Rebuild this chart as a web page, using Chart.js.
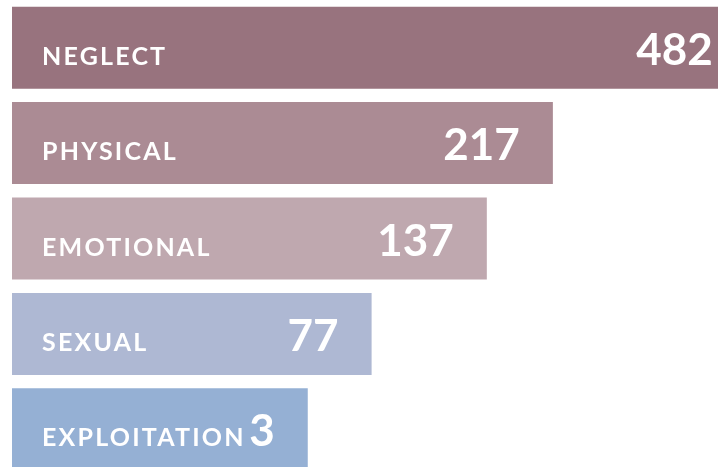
<!DOCTYPE html>
<html>
<head>
<meta charset="utf-8">
<script src="https://cdn.jsdelivr.net/npm/chart.js@4"></script>
<style>
  html, body { margin: 0; padding: 0; background: #fff; overflow: hidden; }
  #wrap { width: 718px; height: 477px; }
</style>
</head>
<body>
<div id="wrap"><canvas id="abuseChart" width="718" height="477"></canvas></div>
<script>
// Tipos de abuso e casos
const categories = ['NEGLECT', 'PHYSICAL', 'EMOTIONAL', 'SEXUAL', 'EXPLOITATION'];
const caseCounts = [482, 217, 137, 77, 3];
// comprimento das barras (relativo à maior - não proporcional aos casos)
const barLengths = [100, 73.7, 64.7, 49.0, 40.3];
const barColors = ['#98737e', '#ab8b94', '#bfa8af', '#aeb8d3', '#95b0d4'];

const labelPlugin = {
    id: 'barLabels',
    afterDatasetsDraw(chart) {
        const ctx = chart.ctx;
        const meta = chart.getDatasetMeta(0);
        ctx.save();
        ctx.fillStyle = '#ffffff';
        ctx.textBaseline = 'alphabetic';
        meta.data.forEach(function (bar, i) {
            ctx.font = 'bold 25px Lato';
            ctx.letterSpacing = '2.2px';
            ctx.textAlign = 'left';
            ctx.fillText(categories[i], bar.base + 30, bar.y + 17);
            ctx.font = 'bold 44px Lato';
            ctx.letterSpacing = '0px';
            ctx.textAlign = 'right';
            ctx.fillText(String(caseCounts[i]), bar.x - 33, bar.y + 17);
        });
        ctx.restore();
    }
};

const abuseCtx = document.getElementById('abuseChart').getContext('2d');
new Chart(abuseCtx, {
    type: 'bar',
    data: {
        labels: categories,
        datasets: [{
            data: barLengths,
            backgroundColor: barColors,
            barPercentage: 0.86,
            categoryPercentage: 1
        }]
    },
    options: {
        indexAxis: 'y',
        responsive: false,
        animation: false,
        layout: { padding: { left: 12, right: 0, top: 0, bottom: 0 } },
        plugins: {
            legend: { display: false },
            tooltip: { enabled: false }
        },
        scales: {
            x: { display: false, min: 0, max: 96.2 },
            y: { display: false }
        }
    },
    plugins: [labelPlugin]
});
</script>
</body>
</html>
